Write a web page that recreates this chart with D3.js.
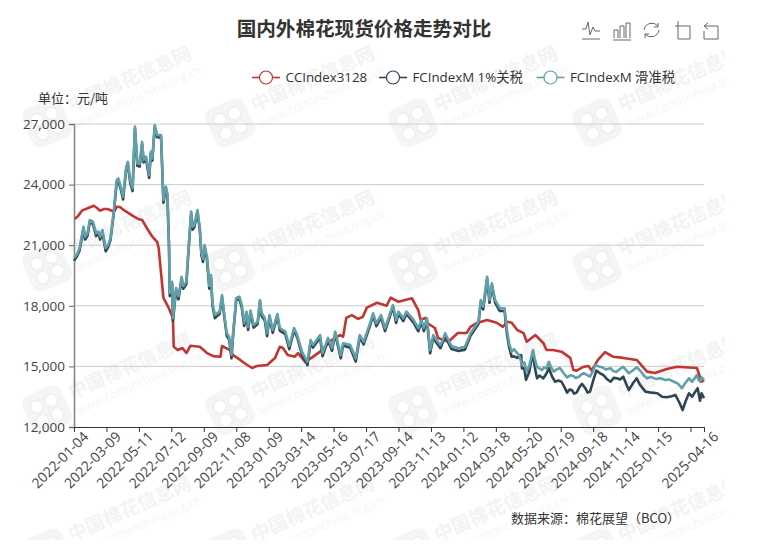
<!DOCTYPE html>
<html>
<head>
<meta charset="utf-8">
<script src="https://cdn.jsdelivr.net/npm/d3@7"></script>
<style>
  html, body { margin: 0; padding: 0; background: #fff; }
  svg { display: block; }
  text { font-family: "Open Sans", "Noto Sans CJK SC", sans-serif; }
</style>
</head>
<body>
<div id="chart"></div>
<script>
const width = 761;
const height = 551;
const margin = { top: 124, left: 74, right: 57, bottom: 124 };
const FONT_CN = '"Noto Sans CJK SC", sans-serif';

// [trading day index, yuan/ton]
const ccIndex = [[1,22300],[5,22440],[10,22710],[18,22840],[25,22950],[29,22840],[33,22710],[38,22790],[42,22790],[48,22710],[51,22690],[54,22900],[58,22890],[64,22710],[71,22540],[76,22410],[81,22300],[86,22250],[92,21850],[99,21420],[105,21170],[107,20860],[109,20020],[113,18390],[119,17950],[125,17400],[126,15970],[131,15810],[137,15910],[142,15660],[147,16020],[159,15970],[168,15660],[176,15510],[185,15480],[187,16010],[197,15810],[201,15560],[210,15320],[217,15120],[225,14920],[231,15020],[244,15070],[254,15420],[260,15970],[264,15910],[270,15560],[279,15480],[283,15660],[292,15230],[300,15420],[311,15730],[326,16310],[336,16550],[340,16470],[344,17400],[351,17540],[359,17350],[365,17460],[370,17910],[383,18150],[395,18000],[400,18400],[410,18200],[427,18370],[435,17790],[438,17300],[444,17400],[446,17150],[456,16900],[460,16410],[473,16220],[485,16650],[496,16650],[501,16960],[509,17150],[522,17300],[534,17160],[542,16960],[547,17210],[553,17160],[560,16800],[568,16650],[572,16220],[583,16550],[593,16160],[597,15810],[605,15810],[616,15730],[627,15420],[631,14820],[635,14790],[643,14970],[650,15020],[654,14790],[662,15320],[671,15710],[681,15480],[694,15420],[711,15320],[724,14740],[734,14670],[749,14870],[762,14980],[787,14920],[793,14240],[796,14330]];

const fcSlip = [[0,20370],[4,20560],[7,20860],[12,21910],[14,21420],[17,21590],[20,22250],[24,22160],[28,21590],[31,21670],[33,21420],[36,21750],[40,20860],[43,21010],[46,21340],[50,22580],[54,24230],[56,24310],[59,23900],[62,23400],[66,24880],[68,25130],[71,24230],[74,23820],[77,26870],[80,25050],[83,25020],[86,26120],[88,25220],[91,25380],[95,24470],[97,25630],[99,25300],[102,26950],[105,26450],[110,26450],[113,23240],[116,23900],[118,23570],[120,21110],[121,18630],[124,19190],[125,17400],[129,18880],[132,18480],[136,19430],[138,18980],[142,19190],[144,20430],[148,22660],[150,21920],[152,22000],[156,22740],[159,21850],[161,20610],[163,20320],[165,21010],[168,20430],[171,18980],[173,19520],[175,18140],[178,17540],[184,17710],[187,18530],[190,17540],[193,16650],[196,16470],[199,15560],[201,16650],[205,18390],[209,18450],[212,18040],[215,17150],[218,17710],[220,16960],[223,17760],[227,17050],[232,17210],[235,18290],[237,17640],[241,17400],[244,16650],[247,17540],[251,16800],[257,17590],[260,16900],[267,16720],[272,16010],[278,16900],[282,16550],[288,15730],[295,15230],[299,16310],[302,16060],[311,16550],[314,15650],[321,16410],[326,15910],[330,16720],[337,15560],[340,16140],[349,16060],[356,15400],[361,16550],[366,16220],[374,17130],[378,17630],[382,17130],[388,17540],[393,16890],[403,18040],[407,17300],[410,17710],[416,17380],[420,17710],[429,17300],[435,16890],[439,17300],[442,16900],[446,17380],[450,15810],[454,16550],[458,16310],[463,16060],[466,16310],[469,16640],[474,16220],[477,16010],[486,15900],[494,15970],[501,16640],[511,17210],[514,18290],[517,17960],[522,19440],[525,18290],[528,19110],[532,18290],[538,17880],[544,17880],[547,16800],[550,16100],[553,15730],[556,15850],[560,15660],[563,15500],[566,15070],[569,15200],[572,14740],[575,15000],[578,15500],[580,15810],[582,15400],[585,14980],[588,14900],[591,14820],[594,14950],[597,14900],[600,15230],[603,14950],[606,14740],[610,14850],[614,14920],[618,14700],[623,14460],[627,14560],[631,14520],[634,14430],[638,14490],[641,14600],[644,14660],[648,14580],[652,14490],[656,14800],[659,15070],[663,15000],[667,14960],[672,14850],[678,14910],[681,14780],[685,14720],[689,14850],[694,14980],[698,14800],[701,14660],[706,14800],[711,14960],[716,14760],[720,14550],[724,14410],[729,14480],[735,14380],[741,14410],[747,14330],[752,14350],[758,14240],[763,14150],[768,13920],[772,14150],[777,14410],[781,14240],[784,14400],[787,14570],[789,14350],[791,14240],[793,14450],[796,14330]];

const fcOnePct = [[0,20230],[4,20460],[7,20740],[12,21800],[14,21280],[17,21470],[20,22150],[24,22040],[28,21450],[31,21570],[33,21280],[36,21640],[40,20700],[43,20890],[46,21240],[50,22480],[54,24120],[56,24200],[59,23780],[62,23260],[66,24790],[68,25030],[71,24100],[74,23680],[77,26780],[80,24930],[83,24890],[86,26020],[88,25100],[91,25270],[95,24330],[97,25530],[99,25180],[102,26860],[105,26350],[110,26340],[113,23100],[116,23800],[118,23430],[120,21000],[121,18480],[124,19080],[125,17250],[129,18770],[132,18320],[136,19330],[138,18840],[142,19080],[144,20330],[148,22560],[150,21770],[152,21890],[156,22640],[159,21720],[161,20500],[163,20170],[165,20900],[168,20300],[171,18850],[173,19410],[175,18000],[178,17390],[184,17610],[187,18430],[190,17410],[193,16520],[196,16330],[199,15400],[201,16540],[205,18290],[209,18340],[212,17910],[215,17000],[218,17600],[220,16810],[223,17660],[227,16920],[232,17100],[235,18190],[237,17500],[241,17280],[244,16500],[247,17440],[251,16660],[257,17490],[260,16770],[267,16590],[272,15850],[278,16790],[282,16430],[288,15590],[295,15060],[299,16200],[302,15930],[311,16430],[314,15500],[321,16300],[326,15770],[330,16610],[337,15400],[340,16030],[349,15920],[356,15240],[361,16440],[366,16090],[374,17020],[378,17520],[382,16990],[388,17430],[393,16750],[403,17930],[407,17150],[410,17600],[416,17240],[420,17600],[429,17170],[435,16740],[439,17190],[442,16750],[446,17260],[450,15650],[454,16440],[458,16170],[463,15900],[466,16200],[469,16520],[474,16080],[477,15860],[486,15760],[494,15830],[501,16520],[511,17100],[514,18180],[517,17820],[522,19330],[525,18150],[528,19000],[532,18160],[538,17740],[544,17750],[547,16600],[550,15900],[553,15480],[556,15500],[560,15420],[565,15560],[566,14900],[569,14900],[571,14330],[575,14700],[578,15300],[580,15730],[582,15000],[585,14410],[588,14550],[593,14410],[597,14650],[600,14910],[604,14500],[608,14240],[612,14300],[616,14240],[620,13950],[623,13700],[626,13850],[629,13830],[632,13650],[635,13700],[639,14000],[642,14130],[646,13920],[649,13700],[652,13750],[656,14300],[660,14790],[665,14650],[669,14570],[674,14350],[678,14240],[682,14430],[686,14410],[690,14350],[694,14490],[698,14100],[701,13830],[706,14150],[711,14410],[715,14100],[719,13900],[722,13750],[730,13700],[737,13670],[743,13500],[749,13470],[755,13520],[760,13580],[765,13200],[769,12840],[773,13300],[777,13670],[781,13500],[785,13750],[788,13920],[791,13300],[793,13670],[796,13420]];

const series = [
    { name: "CCIndex3128", color: "#c23531", values: ccIndex, legendX: 266 },
    { name: "FCIndexM 1%关税", color: "#2f4554", values: fcOnePct, legendX: 393 },
    { name: "FCIndexM 滑准税", color: "#61a0a8", values: fcSlip, legendX: 550.5 }
];

// category axis shows every 41st trading day, last one is always there
const xTicks = new Map([
    [0,"2022-01-04"],[41,"2022-03-09"],[82,"2022-05-11"],[123,"2022-07-12"],[164,"2022-09-09"],
    [205,"2022-11-08"],[246,"2023-01-09"],[287,"2023-03-14"],[328,"2023-05-16"],[369,"2023-07-17"],
    [410,"2023-09-14"],[451,"2023-11-13"],[492,"2024-01-12"],[533,"2024-03-18"],[574,"2024-05-20"],
    [615,"2024-07-19"],[656,"2024-09-18"],[697,"2024-11-14"],[738,"2025-01-15"],[779,""],[796,"2025-04-16"]
]);

const svg = d3.select("#chart")
    .append("svg")
    .attr("width", width)
    .attr("height", height)
    .attr("viewBox", [0, 0, width, height]);

const x = d3.scaleLinear().domain([0, 796]).range([margin.left, width - margin.right]);
const y = d3.scaleLinear().domain([12000, 27000]).range([height - margin.bottom, margin.top]);

// =================== Watermark ===================
const defs = svg.append("defs");
defs.append("clipPath").attr("id", "wmClip")
    .append("rect").attr("x", 0).attr("y", 40).attr("width", 725).attr("height", 500);

const wmRows = [123, 267, 410, 553];
const wmCols = [47, 230, 413, 597];
const wm = svg.append("g").attr("clip-path", "url(#wmClip)");

wmRows.forEach(ly => wmCols.forEach(lx => {
    const t = wm.append("g").attr("transform", `translate(${lx},${ly}) rotate(-24)`);
    t.append("rect").attr("x", -21).attr("y", -21).attr("width", 42).attr("height", 42)
        .attr("rx", 9).attr("fill", "#f5f5f5");
    [[-8,-7],[8,-7],[-8,8],[8,8]].forEach(c => {
        t.append("circle").attr("cx", c[0]).attr("cy", c[1]).attr("r", 6.5)
            .attr("fill", "#fff").attr("stroke", "#f0f0f0").attr("stroke-width", 2);
    });
    t.append("text").attr("x", 27).attr("y", 0)
        .style("font-family", FONT_CN).style("font-weight", 700)
        .attr("font-size", 19).attr("fill", "#f3f3f3").text("中国棉花信息网");
    t.append("text").attr("x", 27).attr("y", 17)
        .attr("font-size", 12).attr("fill", "#f5f5f5").text("www.cottonchina.org.cn");
}));

// =================== Grid and axes ===================
const yTicks = d3.range(12000, 27001, 3000);

svg.append("g")
    .selectAll("line")
    .data(yTicks.slice(1))
    .join("line")
    .attr("x1", margin.left)
    .attr("x2", width - margin.right)
    .attr("y1", d => y(d))
    .attr("y2", d => y(d))
    .attr("stroke", "#ccc")
    .attr("stroke-width", 1);

const yAxis = svg.append("g")
    .attr("transform", `translate(${margin.left},0)`)
    .call(d3.axisLeft(y).tickValues(yTicks).tickFormat(d3.format(",")).tickSize(5).tickPadding(4));
yAxis.select(".domain").attr("stroke", "#888").attr("stroke-width", 1.6);
yAxis.selectAll(".tick line").attr("stroke", "#666");
yAxis.selectAll(".tick text").attr("font-size", 13.5).attr("fill", "#444")
    .style("font-family", '"Open Sans", sans-serif');

const xAxis = svg.append("g")
    .attr("transform", `translate(0,${height - margin.bottom})`)
    .call(d3.axisBottom(x).tickValues([...xTicks.keys()]).tickFormat(d => xTicks.get(d)).tickSize(5).tickPadding(6));
xAxis.select(".domain").attr("stroke", "#333").attr("stroke-width", 1);
xAxis.selectAll(".tick line").attr("stroke", "#333");
xAxis.selectAll(".tick text")
    .attr("font-size", 14)
    .attr("fill", "#444")
    .attr("text-anchor", "end")
    .attr("dx", 3)
    .attr("dy", 7)
    .attr("transform", "rotate(-45)")
    .style("font-family", '"Open Sans", sans-serif');

// =================== Lines ===================
const line = d3.line().x(d => x(d[0])).y(d => y(d[1]));

svg.append("g")
    .selectAll("path")
    .data(series)
    .join("path")
    .attr("d", d => line(d.values))
    .attr("fill", "none")
    .attr("stroke", d => d.color)
    .attr("stroke-width", 2.6)
    .attr("stroke-linejoin", "round");

// =================== Title, legend, notes ===================
svg.append("text")
    .attr("x", 364)
    .attr("y", 36)
    .attr("text-anchor", "middle")
    .attr("font-size", 19.6)
    .attr("font-weight", 700)
    .attr("fill", "#333")
    .style("font-family", FONT_CN)
    .text("国内外棉花现货价格走势对比");

const legend = svg.append("g")
    .selectAll("g")
    .data(series)
    .join("g")
    .attr("transform", d => `translate(${d.legendX},77.5)`);

legend.append("line")
    .attr("x1", -14).attr("x2", 14)
    .attr("stroke", d => d.color)
    .attr("stroke-width", 1.6);

legend.append("circle")
    .attr("r", 6.5)
    .attr("fill", "#fff")
    .attr("stroke", d => d.color)
    .attr("stroke-width", 1.2);

legend.append("text")
    .attr("x", 19.5)
    .attr("y", 4.5)
    .attr("font-size", 13.3)
    .attr("fill", "#333")
    .text(d => d.name);

svg.append("text")
    .attr("x", 38)
    .attr("y", 103)
    .attr("font-size", 13)
    .attr("fill", "#333")
    .style("font-family", FONT_CN)
    .text("单位：元/吨");

svg.append("text")
    .attr("x", 511)
    .attr("y", 523)
    .attr("font-size", 13)
    .attr("fill", "#333")
    .style("font-family", FONT_CN)
    .text("数据来源：棉花展望（BCO）");

// =================== Toolbox icons ===================
const icons = [
    { x: 582, d: "M0,9 H4 L6,2 L8,15 L11,7 L13,11 H18 M0,19 H18" },
    { x: 613, d: "M1,18 V10 H5 V18 M7,18 V6 H11 V18 M13,18 V3 H17 V18 M0,20 H18" },
    { x: 642, d: "M2,10 A8,8 0 0 1 16,6 M16,3 V7 H12 M17,10 A8,8 0 0 1 3,14 M3,18 V14 H7" },
    { x: 675, d: "M0,6 H15 V19 H3 V1" },
    { x: 704, d: "M4,3 L0,6 L4,9 M0,6 H14 V19 H0 V11" }
];

svg.append("g")
    .selectAll("path")
    .data(icons)
    .join("path")
    .attr("transform", d => `translate(${d.x},20)`)
    .attr("d", d => d.d)
    .attr("fill", "none")
    .attr("stroke", "#666")
    .attr("stroke-width", 1);
</script>
</body>
</html>
